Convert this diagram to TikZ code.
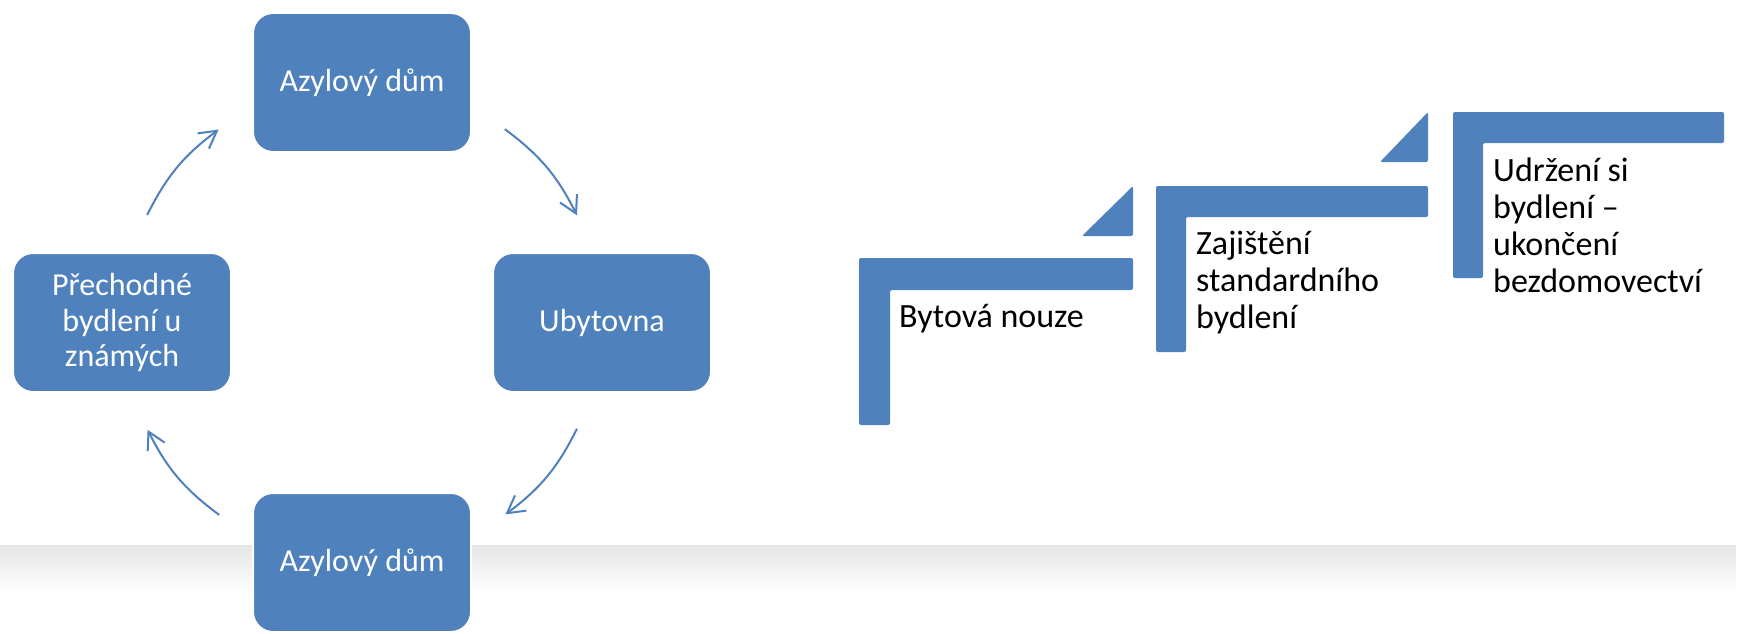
\documentclass[tikz,border=0pt]{standalone}
\usepackage{fontspec}
\setmainfont{Carlito}
\usetikzlibrary{arrows.meta,calc}
\definecolor{boxblue}{HTML}{4F81BD}
\definecolor{shadowgray}{HTML}{E6E6E6}
\definecolor{shadowmid}{HTML}{F3F3F3}
\begin{document}
\begin{tikzpicture}[x=1pt,y=1pt,
  cyclebox/.style={fill=boxblue, draw=white, line width=2pt, rounded corners=20pt,
    minimum width=218pt, minimum height=139pt, inner sep=0pt, text=white,
    align=center, font=\fontsize{32}{35.5}\selectfont},
  cyclearrow/.style={draw=boxblue, line width=2pt,
    -{Straight Barb[length=17pt,width=19pt,line width=2pt]}},
  stepbar/.style={fill=boxblue, rounded corners=2pt},
  steptext/.style={anchor=base west, inner sep=0pt, align=left, text=black,
    font=\fontsize{34}{37}\selectfont}]
\useasboundingbox (0,0) rectangle (1739,-634);
\fill[white] (0,0) rectangle (1739,-634);
% background panel shadow
\shade[top color=shadowgray, bottom color=shadowmid] (0,-545) rectangle (1736,-570);
\shade[top color=shadowmid, bottom color=white] (0,-570) rectangle (1736,-594);
\draw[black!10, line width=0.8pt] (0,-545) -- (1736,-545);

% cycle boxes
\node[cyclebox] (top) at (362,-82.5) {Azylový dům};
\node[cyclebox] (right) at (602,-322.5) {Ubytovna};
\node[cyclebox] (bottom) at (362,-562.5) {Azylový dům};
\node[cyclebox] (left) at (122,-322.5) {Přechodné\\bydlení u\\známých};

% arc arrows
\coordinate (c) at (362,-322);
\coordinate (a1s) at ($(c)+(153.5:240)$);
\coordinate (a1e) at ($(c)+(126.7:240)$);
\coordinate (a2s) at ($(c)+(53.5:240)$);
\coordinate (a2e) at ($(c)+(26.4:240)$);
\coordinate (a3s) at ($(c)+(-26.4:240)$);
\coordinate (a3e) at ($(c)+(-53.3:240)$);
\coordinate (a4s) at ($(c)+(-126.5:240)$);
\coordinate (a4e) at ($(c)+(-153.3:240)$);
\draw[cyclearrow] (a1s) to[bend left=13.4] (a1e);
\draw[cyclearrow] (a2s) to[bend left=13.4] (a2e);
\draw[cyclearrow] (a3s) to[bend left=13.4] (a3e);
\draw[cyclearrow] (a4s) to[bend left=13.4] (a4e);

% steps
\fill[stepbar] (859,-258) -- (1133,-258) -- (1133,-290) -- (890,-290) -- (890,-425) -- (859,-425) -- cycle;
\fill[stepbar] (1082,-236) -- (1133,-236) -- (1133,-186) -- cycle;
\fill[stepbar] (1156,-186) -- (1428,-186) -- (1428,-217) -- (1186,-217) -- (1186,-352) -- (1156,-352) -- cycle;
\fill[stepbar] (1380,-162) -- (1428,-162) -- (1428,-112) -- cycle;
\fill[stepbar] (1453,-112) -- (1724,-112) -- (1724,-143) -- (1483,-143) -- (1483,-278) -- (1453,-278) -- cycle;

\node[steptext] (s1) at (899,-327) {Bytová nouze};
\node[steptext] (s2) at (1196,-328) {Zajištění\\standardního\\bydlení};
\node[steptext] (s3) at (1493,-292) {Udržení si\\bydlení –\\ukončení\\bezdomovectví};
\end{tikzpicture}
\end{document}
